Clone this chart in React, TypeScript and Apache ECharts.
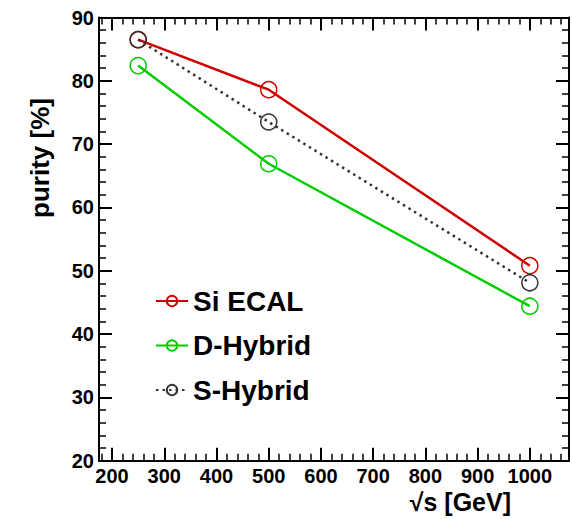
import React, { useEffect, useRef } from "react";
import * as echarts from "echarts";

// Centre-of-mass energies (GeV)
const energies = [250, 500, 1000];
// Purity (%) for each detector option
const siEcal = [86.5, 78.6, 50.8];
const dHybrid = [82.4, 66.9, 44.4];
const sHybrid = [86.5, 73.5, 48.1];

const xMajorTicks = [200, 300, 400, 500, 600, 700, 800, 900, 1000];
const X_MIN = 175;
const X_MAX = 1075;
const Y_MIN = 20;
const Y_MAX = 90;

const FONT = "Liberation Sans, Arial, Helvetica, sans-serif";

function minorTicks(): number[] {
  const out: number[] = [];
  for (let v = 180; v <= 1060; v += 20) {
    if (v % 100 !== 0) out.push(v);
  }
  return out;
}

export default function App() {
  const ref = useRef<HTMLDivElement>(null);

  useEffect(() => {
    if (!ref.current) return;
    const chart = echarts.init(ref.current, null, { renderer: "svg" });
    const minor = minorTicks();
    const axisLine = { show: true, lineStyle: { color: "#000", width: 2 } };

    const xBase = {
      type: "value" as const,
      min: X_MIN,
      max: X_MAX,
      splitLine: { show: false },
      gridIndex: 0,
    };
    const yBase = {
      type: "value" as const,
      min: Y_MIN,
      max: Y_MAX,
      interval: 10,
      splitLine: { show: false },
      minorSplitLine: { show: false },
      axisTick: { show: true, inside: true, length: 13, lineStyle: { color: "#000", width: 2 } },
      minorTick: { show: true, splitNumber: 5, length: 7, lineStyle: { color: "#000", width: 1.5 } },
      axisLine,
    };

    const mkSeries = (
      name: string,
      data: number[],
      color: string,
      type: "solid" | number[],
      width: number
    ) => ({
      name,
      type: "line" as const,
      xAxisIndex: 0,
      yAxisIndex: 0,
      data: energies.map((e, i) => [e, data[i]]),
      symbol: "circle",
      symbolSize: 16,
      itemStyle: { color: "rgba(0,0,0,0)", borderColor: color, borderWidth: 1.5 },
      lineStyle: { color, width, type },
      emphasis: { disabled: true },
    });

    const labelStyle = {
      color: "#000",
      fontWeight: "bold" as const,
      fontSize: 20,
      fontFamily: FONT,
      formatter: (v: number) => String(v),
    };

    chart.setOption({
      animation: false,
      backgroundColor: "#fff",
      grid: { left: 99, right: 3, top: 17.5, bottom: 58.3, containLabel: false },
      xAxis: [
        {
          ...xBase,
          position: "bottom",
          axisLine,
          axisTick: {
            show: true,
            inside: true,
            length: 13,
            customValues: xMajorTicks,
            lineStyle: { color: "#000", width: 2 },
          },
          axisLabel: { show: true, customValues: xMajorTicks, margin: 5, ...labelStyle },
        },
        {
          ...xBase,
          position: "bottom",
          axisLine: { show: false },
          axisTick: { show: true, inside: true, length: 7, customValues: minor, lineStyle: { color: "#000", width: 1.5 } },
          axisLabel: { show: false },
        },
        {
          ...xBase,
          position: "top",
          axisLine,
          axisTick: { show: true, inside: true, length: 13, customValues: xMajorTicks, lineStyle: { color: "#000", width: 2 } },
          axisLabel: { show: false },
        },
        {
          ...xBase,
          position: "top",
          axisLine: { show: false },
          axisTick: { show: true, inside: true, length: 7, customValues: minor, lineStyle: { color: "#000", width: 1.5 } },
          axisLabel: { show: false },
        },
      ],
      yAxis: [
        {
          ...yBase,
          position: "left",
          axisLabel: { show: true, margin: 5, ...labelStyle },
        },
        {
          ...yBase,
          position: "right",
          axisLabel: { show: false },
        },
      ],
      legend: {
        orient: "vertical",
        left: 150,
        top: 282,
        itemWidth: 32,
        itemHeight: 13,
        itemGap: 16.5,
        selectedMode: false,
        textStyle: { color: "#000", fontWeight: "bold", fontSize: 28, fontFamily: FONT },
        data: ["Si ECAL", "D-Hybrid", "S-Hybrid"],
      },
      graphic: [
        {
          type: "text",
          x: 40,
          y: 158,
          rotation: Math.PI / 2,
          style: {
            text: "purity [%]",
            font: `bold 26px ${FONT}`,
            fill: "#000",
            align: "center",
            verticalAlign: "middle",
          },
        },
        {
          type: "text",
          x: 511,
          y: 502,
          style: {
            text: "√s [GeV]",
            font: `bold 25px ${FONT}`,
            fill: "#000",
            align: "right",
            verticalAlign: "middle",
          },
        },
      ],
      series: [
        mkSeries("Si ECAL", siEcal, "#d00000", "solid", 2.5),
        mkSeries("D-Hybrid", dHybrid, "#00cc00", "solid", 2.5),
        mkSeries("S-Hybrid", sHybrid, "#333333", [2.5, 4], 2.5),
      ],
    });

    return () => chart.dispose();
  }, []);

  return (
    <div
      ref={ref}
      style={{ position: "fixed", left: 0, top: 0, width: 572, height: 519 }}
    />
  );
}
